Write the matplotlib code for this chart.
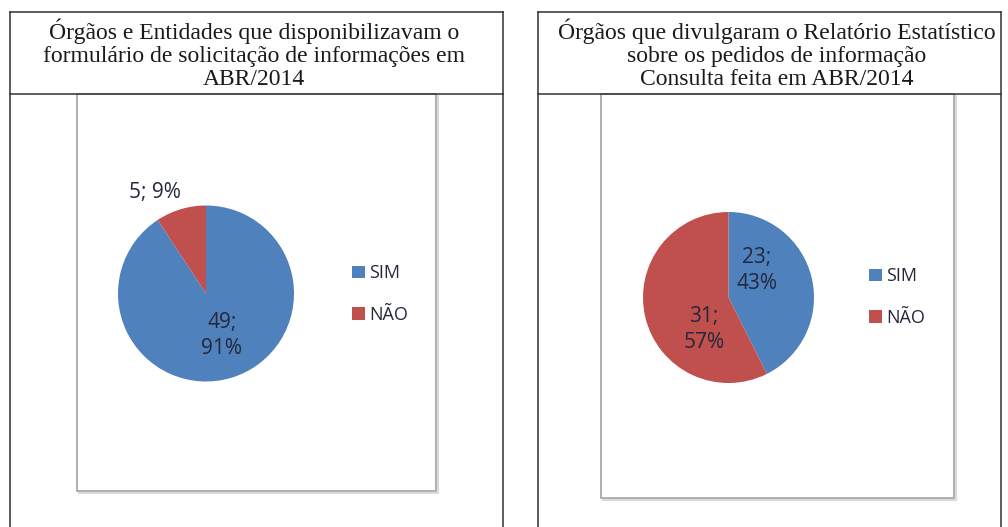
import matplotlib.pyplot as plt
from matplotlib.patches import Rectangle
from matplotlib.lines import Line2D
import numpy as np

# ---------------------------------------------------
# Dados
# ---------------------------------------------------
categorias = ["SIM", "NÃO"]
cores = ["#4F81BD", "#C0504D"]

form_valores = [49, 5]
form_pct = [91, 9]
titulo_form = ("Órgãos e Entidades que disponibilizavam o\n"
               "formulário de solicitação de informações em\n"
               "ABR/2014")

rel_valores = [23, 31]
rel_pct = [43, 57]
titulo_rel = ("Órgãos que divulgaram o Relatório Estatístico\n"
              "sobre os pedidos de informação\n"
              "Consulta feita em ABR/2014")

# ---------------------------------------------------
# Figura (coordenadas em pixels)
# ---------------------------------------------------
W, H = 1008, 527
fig = plt.figure(figsize=(W / 100, H / 100), dpi=100)

serif = ["Liberation Serif", "DejaVu Serif"]
sans = ["Open Sans", "DejaVu Sans"]
txt_cor = "#24283A"


def fx(x):
    return x / W


def fy(y):
    return 1 - y / H


def linha(xs, ys, **kw):
    fig.add_artist(Line2D([fx(x) for x in xs], [fy(y) for y in ys],
                          transform=fig.transFigure, **kw))


def painel(x0, x1, x_in0, x_in1, y_in1, titulo, title_cx):
    # caixa externa + linha do titulo
    kw = dict(color="#303030", lw=1.1)
    linha([x0, x0], [12, H + 5], **kw)
    linha([x1, x1], [12, H + 5], **kw)
    linha([x0, x1], [12, 12], **kw)
    linha([x0, x1], [94, 94], **kw)
    # area do grafico (cinza com leve sombra)
    linha([x_in0 + 2, x_in1 + 2, x_in1 + 2], [y_in1 + 2, y_in1 + 2, 96],
          color="#DADADA", lw=1.5)
    fig.add_artist(Rectangle((fx(x_in0), fy(y_in1)), (x_in1 - x_in0) / W,
                             (y_in1 - 94) / H, transform=fig.transFigure,
                             fill=False, edgecolor="#9A9A9A", lw=1.1))
    fig.text(fx(title_cx), fy(54), titulo, ha="center", va="center",
             fontsize=17, family=serif, color="#1A1A1A", linespacing=1.12)


def pizza(cx, cy, r, valores, pct, pos_rotulos, sep_rotulos, leg_xy):
    ax = fig.add_axes([fx(cx - r), fy(cy + r), 2 * r / W, 2 * r / H])
    wedges, _ = ax.pie(valores, colors=cores, startangle=90,
                       counterclock=False, radius=1,
                       wedgeprops=dict(linewidth=0))
    ax.set_xlim(-1, 1)
    ax.set_ylim(-1, 1)
    ax.axis("off")
    for v, p, (tx, ty), sep in zip(valores, pct, pos_rotulos, sep_rotulos):
        ax.text(tx, ty, f"{v};{sep}{p}%", ha="center", va="center",
                fontsize=15, family=sans, color=txt_cor, linespacing=1.3)
    fig.legend(wedges, categorias, loc="center left",
               bbox_to_anchor=(fx(leg_xy[0]), fy(leg_xy[1])),
               frameon=False, handlelength=0.7, handleheight=0.7,
               handletextpad=0.25, labelspacing=1.3,
               prop=dict(family=sans, size=13), labelcolor=txt_cor)


# painel esquerdo
painel(10, 503, 77, 436, 491, titulo_form, 254)
pizza(206, 293.5, 88, form_valores, form_pct,
      [(0.18, -0.48), (-0.58, 1.15)], ["\n", " "], (336, 294))

# painel direito
painel(538, 1001, 601, 954, 498, titulo_rel, 777)
pizza(728.5, 297.5, 85.5, rel_valores, rel_pct,
      [(0.33, 0.32), (-0.29, -0.37)], ["\n", "\n"], (853, 297))

plt.savefig("out.png", dpi=100)
